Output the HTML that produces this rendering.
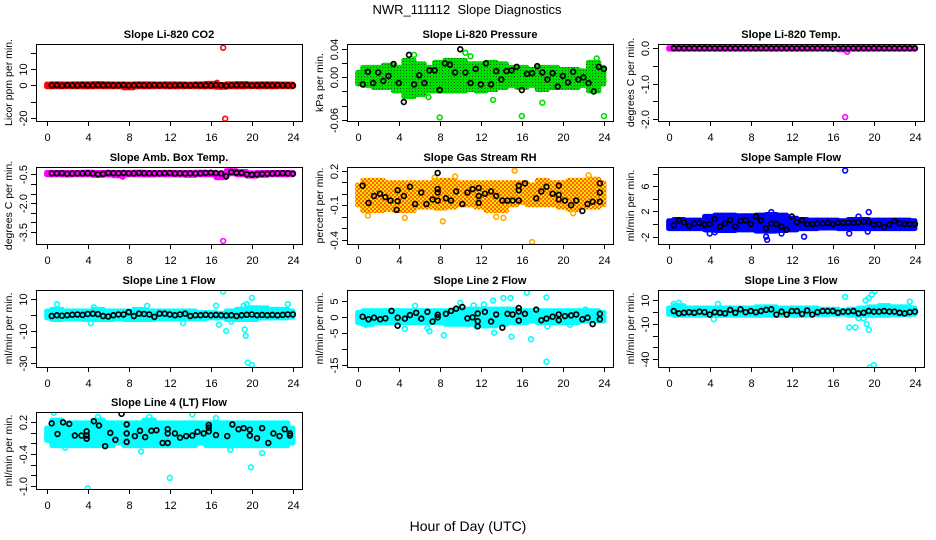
<!DOCTYPE html>
<html><head><meta charset="utf-8"><style>
html,body{margin:0;padding:0;background:#fff;}
svg{display:block;font-family:"Liberation Sans",sans-serif;}
</style></head><body>
<svg id="chart" width="936" height="540" viewBox="0 0 936 540">
<defs>
<pattern id="pat-green" width="3" height="3" patternUnits="userSpaceOnUse"><rect width="3" height="3" fill="#00dd00"/><rect x="1" y="1" width="1" height="1" fill="#1a5a1a"/></pattern>
<pattern id="pat-rh" width="4" height="4" patternUnits="userSpaceOnUse"><rect width="4" height="4" fill="#ff6600"/><rect width="2" height="2" fill="#ffdd00"/><rect x="2" y="2" width="2" height="2" fill="#ffdd00"/></pattern>
</defs>
<rect width="936" height="540" fill="#fff"/>
<text x="467" y="14" font-size="13" text-anchor="middle">NWR_111112&#160; Slope Diagnostics</text>
<text x="468" y="531" font-size="14" text-anchor="middle">Hour of Day (UTC)</text>
</svg>
<script>
const hourBins=[0,1,2,3,4,5,6,7,8,9,10,11,12,13,14,15,16,17,18,19,20,21,22,23,24];
const halfHours=[0.5,1,1.5,2,2.5,3,3.5,4,4.5,5,5.5,6,6.5,7,7.5,8,8.5,9,9.5,10,10.5,11,11.5,12,12.5,13,13.5,14,14.5,15,15.5,16,16.5,17,17.5,18,18.5,19,19.5,20,20.5,21,21.5,22,22.5,23,23.5,24];
const xTicks=[0,4,8,12,16,20,24];

const p1Lo=[-1.2,-1.2,-1.1,-1.2,-1.2,-1.1,-1.2,-1.2,-1.8,-1.2,-1.2,-1.1,-1.2,-1.2,-1.1,-1.2,-1.2,-1.5,-1.2,-1.2,-1.1,-1.2,-1.2,-1.1,-1.2];
const p1Hi=[1.0,1.2,1.1,1.2,1.2,1.3,1.2,1.1,1.0,1.2,1.2,1.1,1.2,1.1,1.0,1.2,1.5,0.8,1.2,1.3,1.1,1.2,1.2,1.1,1.0];
const p1Black=[0,0.1,-0.2,0.1,0,-0.1,0.2,0,-0.1,0.1,0,0.1,-0.1,0,0.2,-0.1,0,0.1,0,-0.1,0.1,0,0.1,-0.2,0,0.1,0,-0.1,0.1,0,0,-0.1,0.2,0,-0.3,0,0.1,0,0.2,-0.1,0,0.1,0,-0.1,0.1,0,0,-0.2];
const p1OutH=[17.2,17.4,16.6];
const p1OutV=[23,-20.5,1.5];

const p2Lo=[-0.01,-0.012,-0.015,-0.015,-0.02,-0.028,-0.025,-0.02,-0.02,-0.02,-0.02,-0.018,-0.02,-0.018,-0.015,-0.012,-0.015,-0.012,-0.018,-0.015,-0.015,-0.015,-0.012,-0.02,-0.01];
const p2Hi=[0.008,0.015,0.015,0.018,0.015,0.025,0.02,0.015,0.022,0.025,0.025,0.02,0.02,0.022,0.02,0.015,0.015,0.012,0.015,0.015,0.012,0.012,0.01,0.022,0.015];
const p2Black=[-0.01,0.008,-0.008,0.007,-0.005,0.002,0.019,-0.008,-0.035,0.032,-0.01,0.003,-0.008,0.01,0.01,-0.018,0.02,0.018,0.007,0.04,0.007,-0.008,0.012,-0.01,0.02,-0.01,0.009,-0.003,0.009,0.01,0.015,-0.018,0.005,0.006,0.016,0.007,-0.003,0.006,-0.013,0.002,-0.007,0.008,-0.003,0,-0.008,-0.02,0.015,0.012];
const p2OutH=[8,16,24,13.2,18,10.5,5.5,11,6.9,4.6,23.3];
const p2OutV=[-0.057,-0.055,-0.055,-0.032,-0.036,0.035,0.032,0.03,-0.028,-0.025,0.027];

const p3Lo=[-0.04,-0.04,-0.04,-0.04,-0.04,-0.04,-0.04,-0.04,-0.04,-0.04,-0.04,-0.04,-0.04,-0.04,-0.04,-0.04,-0.04,-0.06,-0.04,-0.04,-0.04,-0.04,-0.04,-0.04,-0.04];
const p3Hi=[0.03,0.03,0.03,0.03,0.03,0.03,0.03,0.03,0.03,0.03,0.03,0.03,0.03,0.03,0.03,0.03,0.03,0.03,0.03,0.03,0.03,0.03,0.03,0.03,0.03];
const p3Black=[0,0,0,0,0,0,0,0,0,0,0,0,0,0,0,0,0,0,0,0,0,0,0,0,0,0,0,0,0,0,0,-0.01,0,0,0,0,0,0,0,0,0,0,0,0,0,0,0,0];
const p3OutH=[17.2,17.4];
const p3OutV=[-1.95,-0.1];

const p4Lo=[-0.55,-0.55,-0.56,-0.55,-0.55,-0.58,-0.56,-0.6,-0.55,-0.55,-0.56,-0.55,-0.55,-0.56,-0.58,-0.55,-0.55,-0.7,-0.5,-0.55,-0.62,-0.58,-0.55,-0.55,-0.55];
const p4Hi=[-0.38,-0.38,-0.38,-0.38,-0.37,-0.38,-0.38,-0.38,-0.38,-0.37,-0.38,-0.38,-0.38,-0.38,-0.38,-0.37,-0.38,-0.45,-0.28,-0.33,-0.4,-0.38,-0.38,-0.38,-0.38];
const p4Black=[-0.45,-0.45,-0.44,-0.47,-0.46,-0.45,-0.45,-0.44,-0.46,-0.5,-0.48,-0.43,-0.44,-0.45,-0.43,-0.45,-0.45,-0.43,-0.44,-0.45,-0.45,-0.45,-0.44,-0.43,-0.46,-0.45,-0.46,-0.45,-0.46,-0.45,-0.43,-0.42,-0.44,-0.45,-0.6,-0.38,-0.42,-0.43,-0.5,-0.52,-0.5,-0.48,-0.47,-0.46,-0.45,-0.44,-0.45,-0.47];
const p4OutH=[17.2,7.4];
const p4OutV=[-3.97,-0.62];

const p5Lo=[-0.1,-0.15,-0.15,-0.14,-0.15,-0.15,-0.12,-0.12,-0.13,-0.12,-0.1,-0.1,-0.12,-0.15,-0.15,-0.1,-0.08,-0.1,-0.1,-0.1,-0.12,-0.14,-0.12,-0.12,-0.1];
const p5Hi=[0.08,0.12,0.12,0.1,0.1,0.1,0.1,0.1,0.12,0.12,0.1,0.1,0.1,0.1,0.1,0.1,0.1,0.08,0.12,0.1,0.1,0.12,0.12,0.13,0.1];
const p5BlackH=[0.48,1.06,1.6,2.17,2.7,3.2,3.9,3.9,3.8,4.5,5.1,5.6,6.2,6.7,7.3,7.8,7.8,7.8,7.8,8.6,9.1,9.6,10.2,10.7,11.2,11.8,11.8,11.8,12.4,13,13.5,14.1,14.6,15.1,15.7,15.7,15.7,16.3,17.4,17.9,18.4,19,19.6,19.6,19.6,20.2,20.8,21.3,21.9,22.4,22.9,23.6,23.6,23.6];
const p5BlackV=[0.07,-0.08,-0.02,0,-0.03,-0.06,0.03,-0.065,-0.14,-0.02,0.06,-0.09,0.01,-0.09,-0.05,0.01,-0.06,0.04,0.18,-0.04,-0.06,0.02,-0.09,0.01,0.04,0.05,-0.02,-0.08,0,0.02,-0.02,-0.06,-0.06,-0.06,0.07,0.03,-0.06,0.09,-0.04,0.02,0.06,0,0.07,-0.01,-0.05,-0.06,-0.1,-0.06,-0.15,-0.09,-0.07,-0.07,0.01,0.09];
const p5OutH=[1,4.6,8.3,15.3,17,7.5,9.5,13.5,14.2,22.5,21];
const p5OutV=[-0.19,-0.21,-0.24,0.2,-0.42,0.14,0.15,-0.2,-0.21,0.16,-0.17];

const p6Lo=[-0.8,-0.8,-0.8,-0.8,-1,-1.1,-1.1,-1,-1,-1.2,-1.2,-1.1,-1,-0.8,-0.8,-0.7,-0.7,-0.8,-0.8,-0.8,-0.8,-0.8,-0.8,-0.8,-0.8];
const p6Hi=[0.6,0.8,0.7,0.7,1.3,1.5,1.5,1.4,1.4,1.5,1.6,1.5,1.0,0.8,0.7,0.7,0.7,0.6,0.8,0.8,0.7,0.7,0.7,0.7,0.6];
const p6Black=[-0.2,0.6,0.3,-0.3,0.1,0.2,-0.1,0,0.8,-0.4,0.1,0.6,-0.4,0.5,0.6,0,1.2,0.6,-0.7,0.1,0,-0.4,-0.9,1.2,0.3,0.6,0,0,0.1,0.1,0.2,0,0.2,0.2,0.2,0.2,0.3,0.4,0.4,-0.1,0,-0.5,-0.1,0.5,0.1,0,0,0];
const p6OutH=[17.2,19.5,9.6,9.5,13.2,10,4,17.6,18.5,11,4.5,19.4];
const p6OutV=[8.5,1.9,-2.5,-2,-2,1.9,-1.5,-1.5,1.2,-1.5,-1.3,-1.2];

const p7Lo=[-2,-3,-2.5,-2.5,-3,-3,-3,-2.5,-3,-3,-3,-2.5,-2.5,-2.5,-2.5,-2.5,-2,-2,-3,-3,-3,-2,-2,-2,-1.5];
const p7Hi=[3,4,3,3,3,4,3,3,3,4,3,3,3,3,3,2,2,1.5,3,4,5,5,4,4,3];
const p7Black=[-0.5,0,-0.3,0,0.3,0.5,0.2,0.8,1,0.7,-0.5,-0.8,0,0.5,0.5,2,-0.5,1,0.8,0.5,-1,1,1,0.5,0,0.5,1,-0.5,0,0,0.3,0,0.2,0,-0.2,0,-0.5,0,0.3,0.5,0,0.2,0,0.2,0,0.2,0.5,0.5];
const p7OutH=[17.2,16.8,17.5,19.3,19.4,19.6,20,20,19.5,19.2,16.5,18,13.3,4.3,1,9.8,23.5,4.6];
const p7OutV=[15,-6,-10,-9,-13,-30,-31.5,11,7,6,6,-4,-5,-5,7,6,7,5];

const p8Lo=[-2,-2.5,-2,-2,-2,-2,-2,-2,-2,-2.5,-2.5,-2.5,-3,-3,-2.5,-2,-2,-1.5,-2,-2,-2,-2,-1.5,-1.5,-1.5];
const p8Hi=[1.5,2,2,2,2,2,2,2,2,2,2.5,2.5,2.5,2.5,2.5,2.5,2,2,2,2,2,2,2,2,1.5];
const p8BlackH=[0.49,1.06,1.6,2.2,2.7,3.3,3.9,3.9,4.6,5.1,5.7,6.2,6.8,7.3,7.8,7.8,8.6,9.1,9.6,10.2,10.7,11.2,11.7,11.7,11.7,12.4,13,13.5,14.1,14.6,15.1,15.7,15.7,15.7,16.3,17.4,17.9,18.4,19,19.6,19.6,20.2,20.8,21.3,21.9,22.4,22.9,23.6,23.6];
const p8BlackV=[0,-0.8,-0.3,-0.8,-0.5,1.8,-0.3,-2.8,-0.6,0.5,1.2,-0.6,1.5,-1.5,-0.2,0.6,0.9,1.8,2.5,3.0,-0.5,-0.2,1.0,-1.4,-3,1.5,-1.5,0.7,-3.4,0.9,0.7,2.7,1.6,-1.2,0.9,2.2,-1.1,-0.6,0,0.7,-1.1,0.2,0.4,0.7,-0.8,-0.3,-2.3,0.9,-0.8];
const p8OutH=[16.5,18.4,18.4,14.2,14.9,15,16.9,8.4,7,13.3,10,11.3,12.3,13.2,5.6,4.6,18.5,20.7,22.2,6.8,0.8,11.5];
const p8OutV=[7.5,6,-14,5.8,5.8,-6.2,-7,-5.8,-4.5,-5,4.3,3.5,3.8,5,3.4,-3.8,-3,-2.5,2.2,-3.5,-2.5,-2.8];

const p9Lo=[-2,-3,-3,-3,-3,-3,-3,-3,-3,-3,-3,-3,-3,-3,-2.5,-2.5,-2,-2,-3,-3,-3,-3,-2.5,-2.5,-2];
const p9Hi=[4,6,4,4,4,4,4,4,4,5,5,4,4,4,4,3,3,2,3,4,5,6,5,5,4];
const p9Black=[1,-1,-0.5,0,-0.5,0.5,0,-2,0,-0.5,-1,2,-0.5,2.5,0,1,0,1,2,2.5,-2,0.5,-2,1,1,-1.5,1.5,-2,0,1,1,1,-0.5,0.5,0.5,1,-1,-0.5,1,0.5,0.5,1,0.5,0.5,-0.5,-1,0,0.5];
const p9OutH=[17.2,17.6,18.2,18.5,19,19.3,19.5,19.2,19.5,19.8,20.1,19.6,20,23.5,4.4,4.8,1,0.5];
const p9OutV=[13,-13,-13,-5,-5,-10,-15,10,12,15,18,-47,-45,9,-6,7,8,7];

const p10Lo=[-0.15,-0.25,-0.25,-0.25,-0.25,-0.25,-0.25,-0.2,-0.25,-0.25,-0.25,-0.25,-0.25,-0.25,-0.25,-0.2,-0.25,-0.25,-0.25,-0.25,-0.25,-0.25,-0.25,-0.25,-0.2];
const p10Hi=[0.1,0.25,0.2,0.2,0.2,0.25,0.2,0.2,0.2,0.2,0.25,0.2,0.2,0.2,0.2,0.2,0.2,0.2,0.2,0.2,0.2,0.2,0.2,0.2,0.1];
const p10BlackH=[0.49,1.06,1.6,2.2,2.75,3.4,3.9,3.9,3.9,4.6,5.1,5.7,6.2,6.7,7.3,7.8,7.8,7.8,8.6,9.1,9.6,10.2,10.7,11.3,11.8,11.8,11.8,12.5,13,13.6,14.2,14.7,15.3,15.8,15.8,15.8,16.5,17.6,18.1,18.7,19.2,19.8,19.8,20.5,21,21.6,22.1,22.7,23.2,23.7,23.7];
const p10BlackV=[0.18,-0.02,0.2,0.17,-0.05,-0.05,0.03,-0.05,-0.11,0.22,0.14,-0.25,0,-0.13,0.36,0.16,-0.01,-0.17,-0.06,0.04,-0.08,0.04,0.05,-0.19,-0.19,0.07,-0.01,-0.01,-0.09,-0.06,-0.05,0.02,-0.01,0.15,0.1,0.03,-0.04,-0.06,0.16,0.07,0.09,0.06,-0.05,-0.1,0.09,-0.19,-0.01,-0.06,0.07,-0.01,-0.05];
const p10OutH=[4,12,19.9,0.7,14.2,21,5,9.2,17.9,1.8,10,16.5];
const p10OutV=[-1.05,-0.85,-0.65,0.38,0.35,-0.38,0.3,-0.35,-0.32,-0.28,0.3,0.28];

const panels=[
 {name:'co2',title:'Slope Li-820 CO2',ylab:'Licor ppm per min.',col:0,row:0,dom:[-21.9,25.3],ticks:[-20,-10,0,10,20],labs:['-20','','0','10',''],color:'#ff0000',fill:'#ff0000',lo:p1Lo,hi:p1Hi,bh:halfHours,bv:p1Black,oh:p1OutH,ov:p1OutV},
 {name:'pressure',title:'Slope Li-820 Pressure',ylab:'kPa per min.',col:1,row:0,dom:[-0.062,0.0475],ticks:[-0.06,-0.04,-0.02,0,0.02,0.04],labs:['-0.06','','','0.00','','0.04'],color:'#00dd00',fill:'url(#pat-green)',lo:p2Lo,hi:p2Hi,bh:halfHours,bv:p2Black,oh:p2OutH,ov:p2OutV},
 {name:'li-temp',title:'Slope Li-820 Temp.',ylab:'degrees C per min.',col:2,row:0,dom:[-2.06,0.12],ticks:[-2,-1.5,-1,-0.5,0],labs:['-2.0','','-1.0','','0.0'],color:'#ff00ff',fill:'#ff00ff',lo:p3Lo,hi:p3Hi,bh:halfHours,bv:p3Black,oh:p3OutH,ov:p3OutV},
 {name:'amb-box-temp',title:'Slope Amb. Box Temp.',ylab:'degrees C per min.',col:0,row:1,dom:[-4.125,-0.12],ticks:[-3.5,-3,-2.5,-2,-1.5,-1,-0.5],labs:['-3.5','','','-2.0','','','-0.5'],color:'#ff00ff',fill:'#ff00ff',lo:p4Lo,hi:p4Hi,bh:halfHours,bv:p4Black,oh:p4OutH,ov:p4OutV},
 {name:'gas-rh',title:'Slope Gas Stream RH',ylab:'percent per min.',col:1,row:1,dom:[-0.437,0.232],ticks:[-0.4,-0.3,-0.2,-0.1,0,0.1,0.2],labs:['-0.4','','','-0.1','','','0.2'],color:'#ffaa00',fill:'url(#pat-rh)',lo:p5Lo,hi:p5Hi,bh:p5BlackH,bv:p5BlackV,oh:p5OutH,ov:p5OutV},
 {name:'sample-flow',title:'Slope Sample Flow',ylab:'ml/min per min.',col:2,row:1,dom:[-3.16,9.06],ticks:[-2,0,2,4,6,8],labs:['-2','','2','','6',''],color:'#0000ff',fill:'#0000ff',lo:p6Lo,hi:p6Hi,bh:halfHours,bv:p6Black,oh:p6OutH,ov:p6OutV},
 {name:'line1-flow',title:'Slope Line 1 Flow',ylab:'ml/min per min.',col:0,row:2,dom:[-32.8,16],ticks:[-30,-20,-10,0,10],labs:['-30','','-10','','10'],color:'#00ffff',fill:'#00ffff',lo:p7Lo,hi:p7Hi,bh:halfHours,bv:p7Black,oh:p7OutH,ov:p7OutV},
 {name:'line2-flow',title:'Slope Line 2 Flow',ylab:'ml/min per min.',col:1,row:2,dom:[-15.63,8.3],ticks:[-15,-10,-5,0,5],labs:['-15','','-5','0','5'],color:'#00ffff',fill:'#00ffff',lo:p8Lo,hi:p8Hi,bh:p8BlackH,bv:p8BlackV,oh:p8OutH,ov:p8OutV},
 {name:'line3-flow',title:'Slope Line 3 Flow',ylab:'ml/min per min.',col:2,row:2,dom:[-46.6,18.9],ticks:[-40,-30,-20,-10,0,10],labs:['-40','','','-10','','10'],color:'#00ffff',fill:'#00ffff',lo:p9Lo,hi:p9Hi,bh:halfHours,bv:p9Black,oh:p9OutH,ov:p9OutV},
 {name:'line4-flow',title:'Slope Line 4 (LT) Flow',ylab:'ml/min per min.',col:0,row:3,dom:[-1.06,0.395],ticks:[-1,-0.8,-0.6,-0.4,-0.2,0,0.2],labs:['-1.0','','','-0.4','','','0.2'],color:'#00ffff',fill:'#00ffff',lo:p10Lo,hi:p10Hi,bh:p10BlackH,bv:p10BlackV,oh:p10OutH,ov:p10OutV}
];

const NS='http://www.w3.org/2000/svg';
const svg=document.getElementById('chart');
const colX=[36,347,658], rowY=[44,167,290,412], W=266, H=77;
function mk(tag,attrs,parent){const e=document.createElementNS(NS,tag);for(const k in attrs)e.setAttribute(k,attrs[k]);(parent||svg).appendChild(e);return e;}

panels.forEach(p=>{
  const L=colX[p.col], T=rowY[p.row];
  const g=mk('g',{});
  
  
  const xs=h=>L+W*0.04+(h/24)*(W/1.08);
  const ys=v=>T+H-(v-p.dom[0])/(p.dom[1]-p.dom[0])*H;
  const cid='clip-'+p.name;
  const cp=mk('clipPath',{id:cid},g); mk('rect',{x:L,y:T,width:W,height:H},cp);
  const plot=mk('g',{'clip-path':'url(#'+cid+')'},g);
  hourBins.forEach((h,i)=>{
    const x0=xs(Math.max(0,h-0.5))-2.5, x1=xs(Math.min(24,h+0.5))+2.5;
    const y0=ys(p.hi[i])-2, y1=ys(p.lo[i])+2;
    const r=mk('rect',{x:x0,y:y0,width:x1-x0,height:Math.max(1,y1-y0),rx:2.5,fill:p.fill},plot);
    
    
  });
  p.oh.forEach((h,i)=>{
    const c=mk('circle',{cx:xs(h),cy:ys(p.ov[i]),r:2.4,fill:'none',stroke:p.color,'stroke-width':1.6},plot);
    
    
  });
  p.bh.forEach((h,i)=>{
    const c=mk('circle',{cx:xs(h),cy:ys(p.bv[i]),r:2.4,fill:'none',stroke:'#000','stroke-width':1.7},plot);
    
    
  });
  const fr=mk('rect',{x:L+0.5,y:T+0.5,width:W,height:H,fill:'none',stroke:'#000','stroke-width':1},g);
  
  
  xTicks.forEach(t=>{
    const x=Math.round(xs(t))+0.5;
    mk('line',{x1:x,x2:x,y1:T+H,y2:T+H+5,stroke:'#000'},g);
    const tx=mk('text',{x:x,y:T+H+20,'font-size':11,'text-anchor':'middle'},g);
    tx.textContent=t;
    
    
  });
  p.ticks.forEach((t,i)=>{
    const y=Math.round(ys(t))+0.5;
    mk('line',{x1:L-5,x2:L,y1:y,y2:y,stroke:'#000'},g);
    if(p.labs[i]){
      const tx=mk('text',{x:0,y:0,'font-size':11,'text-anchor':'middle',transform:'translate('+(L-9)+','+y+') rotate(-90)'},g);
      tx.textContent=p.labs[i];
      
      
    }
  });
  const tt=mk('text',{x:L+W/2,y:T-6,'font-size':11,'font-weight':'bold','text-anchor':'middle'},g);
  tt.textContent=p.title;
  
  
  const yl=mk('text',{x:0,y:0,'font-size':10.5,'text-anchor':'middle',transform:'translate('+(L-24)+','+(T+H/2)+') rotate(-90)'},g);
  yl.textContent=p.ylab;
  
  
});
</script>
</body></html>
